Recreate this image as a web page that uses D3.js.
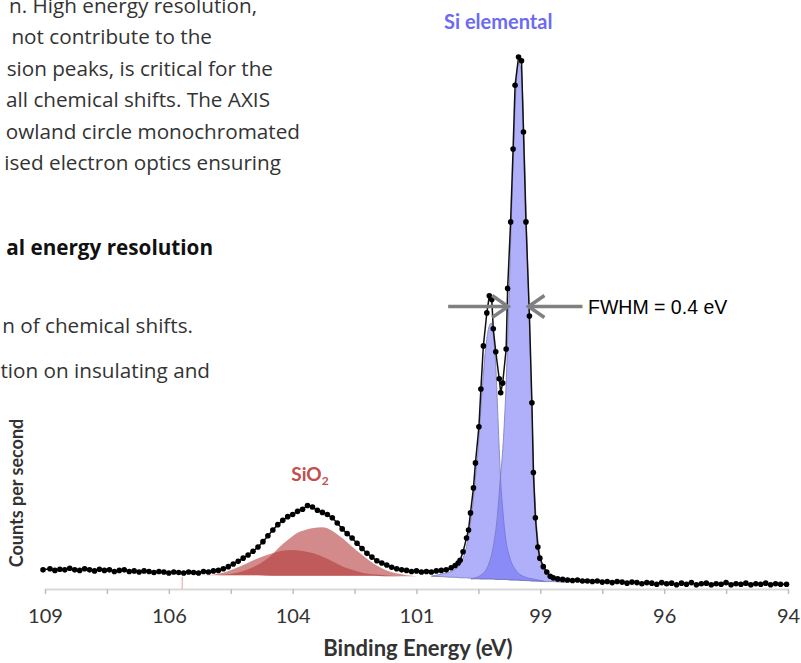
<!DOCTYPE html>
<html>
<head>
<meta charset="utf-8">
<script src="https://cdn.jsdelivr.net/npm/d3@7"></script>
<style>
body { margin: 0; background: #fff; }
</style>
</head>
<body>
<div id="chart"></div>
<script>
"use strict";

// page text, cut off at the left edge in the original scan
var paraLines = ["n. High energy resolution,", "not contribute to the", "sion peaks, is critical for the",
                 "all chemical shifts. The AXIS", "owland circle monochromated", "ised electron optics ensuring"];
var heading = "al energy resolution";
var bulletLines = ["n of chemical shifts.", "tion on insulating and"];

// measured spectrum: [binding energy (eV), counts (arb.)]
var spectrum = [
  [109.04, 3.6], [108.9, 3.8], [108.8, 3.5], [108.7, 3.7], [108.6, 3.6], [108.5, 3.9], [108.4, 3.6],
  [108.3, 3.5], [108.2, 3.8], [108.1, 3.6], [108.0, 3.4], [107.9, 3.7], [107.8, 3.5], [107.7, 3.6],
  [107.6, 3.3], [107.5, 3.5], [107.4, 3.6], [107.3, 3.3], [107.2, 3.4], [107.1, 3.2], [107.0, 3.4],
  [106.9, 3.3], [106.8, 3.1], [106.7, 3.3], [106.6, 3.2], [106.5, 3.0], [106.4, 3.2], [106.3, 3.1],
  [106.2, 3.0], [106.1, 3.2], [106.0, 3.1], [105.9, 3.0], [105.8, 3.3], [105.7, 3.2], [105.6, 3.4],
  [105.5, 3.5], [105.4, 3.8], [105.3, 4.2], [105.2, 4.7], [105.1, 5.2], [105.0, 5.8], [104.9, 6.4],
  [104.8, 7.1], [104.7, 7.9], [104.6, 8.9], [104.5, 10.0], [104.4, 11.1], [104.3, 12.1], [104.2, 12.9],
  [104.1, 13.6], [104.0, 14.0], [103.9, 14.6], [103.8, 15.0], [103.7, 15.7], [103.6, 15.4], [103.5, 14.8],
  [103.4, 14.4], [103.3, 14.0], [103.2, 13.4], [103.1, 12.4], [103.0, 11.3], [102.9, 10.4], [102.8, 9.6],
  [102.7, 8.6], [102.6, 7.6], [102.5, 6.7], [102.4, 6.0], [102.3, 5.3], [102.2, 4.9], [102.1, 4.5],
  [102.0, 4.1], [101.9, 3.8], [101.8, 3.6], [101.7, 3.5], [101.6, 3.3], [101.5, 3.4], [101.4, 3.2],
  [101.3, 3.3], [101.2, 3.2], [101.1, 3.4], [101.0, 3.5], [100.9, 3.6], [100.8, 4.0], [100.72, 4.4],
  [100.66, 4.9], [100.62, 5.4], [100.56, 7.0], [100.49, 9.6], [100.45, 11.1], [100.41, 14.3], [100.35, 19.0],
  [100.31, 23.7], [100.24, 30.5], [100.20, 37.6], [100.15, 45.7], [100.08, 51.9], [100.03, 55.1], [99.98, 54.4],
  [99.95, 48.9], [99.90, 44.6], [99.83, 39.5], [99.80, 36.9], [99.76, 38.7], [99.69, 45.1], [99.66, 56.5],
  [99.60, 69.0], [99.55, 82.7], [99.51, 94.7], [99.44, 100.0], [99.38, 99.3], [99.34, 85.9], [99.29, 69.0],
  [99.22, 51.3], [99.17, 35.0], [99.14, 21.9], [99.10, 13.4], [99.05, 7.9], [99.01, 5.8], [98.94, 4.2],
  [98.87, 3.2], [98.80, 2.4], [98.74, 2.1], [98.65, 1.9], [98.55, 1.8], [98.45, 1.7], [98.35, 1.6],
  [98.25, 1.7], [98.15, 1.5], [98.05, 1.5], [97.95, 1.4], [97.85, 1.5], [97.75, 1.3], [97.65, 1.4],
  [97.55, 1.2], [97.45, 1.4], [97.35, 1.3], [97.25, 1.1], [97.15, 1.3], [97.05, 1.2], [96.95, 1.0],
  [96.85, 1.2], [96.75, 1.1], [96.65, 0.9], [96.55, 1.2], [96.45, 1.0], [96.35, 1.1], [96.25, 0.8],
  [96.15, 1.1], [96.05, 0.9], [95.95, 1.2], [95.85, 0.8], [95.75, 1.0], [95.65, 1.1], [95.55, 0.8],
  [95.45, 1.0], [95.35, 0.9], [95.25, 1.2], [95.15, 0.8], [95.05, 1.0], [94.95, 0.9], [94.85, 1.1],
  [94.75, 0.8], [94.65, 1.0], [94.55, 0.9], [94.45, 1.1], [94.35, 0.8], [94.25, 1.0], [94.15, 0.9], [94.03, 0.9]
];

// fitted components: [energy, background, top]
var siO2Major = [
  [105.5, 2.6, 2.6], [105.2, 2.6, 2.9], [105.0, 2.6, 3.4], [104.8, 2.6, 4.1], [104.6, 2.6, 5.1],
  [104.4, 2.5, 6.6], [104.26, 2.5, 7.95], [104.1, 2.5, 9.2], [103.92, 2.5, 10.5], [103.75, 2.5, 11.1],
  [103.58, 2.5, 11.45], [103.41, 2.5, 11.6], [103.3, 2.5, 11.4], [103.18, 2.5, 10.8], [103.05, 2.5, 9.9],
  [102.91, 2.5, 8.9], [102.78, 2.5, 7.8], [102.64, 2.5, 6.7], [102.5, 2.5, 5.7], [102.37, 2.5, 4.8],
  [102.2, 2.4, 3.9], [102.03, 2.4, 3.25], [101.85, 2.4, 2.85], [101.7, 2.4, 2.6], [101.5, 2.4, 2.4]
];
var siO2Minor = [
  [105.8, 2.6, 2.6], [105.6, 2.6, 2.7], [105.47, 2.6, 2.9], [105.2, 2.6, 3.7], [104.93, 2.6, 4.8],
  [104.72, 2.6, 5.7], [104.52, 2.5, 6.4], [104.3, 2.5, 7.0], [104.05, 2.5, 7.33], [103.8, 2.5, 7.15],
  [103.58, 2.5, 6.7], [103.38, 2.5, 6.0], [103.18, 2.5, 5.1], [102.98, 2.5, 4.2], [102.78, 2.5, 3.55],
  [102.58, 2.5, 3.0], [102.37, 2.5, 2.75], [102.1, 2.4, 2.55], [101.8, 2.4, 2.4]
];
var si2p1 = [
  [101.2, 2.4, 2.4], [100.95, 2.3, 2.9], [100.8, 2.2, 3.3], [100.7, 2.2, 3.8], [100.62, 2.1, 4.6],
  [100.56, 2.1, 5.8], [100.49, 2.1, 8.0], [100.41, 2.0, 12.5], [100.35, 2.0, 17.0], [100.31, 2.0, 21.0],
  [100.25, 2.0, 27.0], [100.2, 1.9, 34.0], [100.15, 1.9, 40.5], [100.1, 1.9, 45.5], [100.05, 1.9, 48.8],
  [99.99, 1.9, 50.0], [99.95, 1.9, 48.0], [99.9, 1.8, 42.0], [99.85, 1.8, 31.0], [99.81, 1.8, 22.0],
  [99.75, 1.8, 14.0], [99.7, 1.8, 9.5], [99.62, 1.7, 6.0], [99.5, 1.7, 3.6], [99.35, 1.6, 2.4],
  [99.1, 1.5, 1.8], [98.9, 1.4, 1.4]
];
var si2p3 = [
  [100.4, 1.9, 1.9], [100.2, 1.9, 2.6], [100.05, 1.9, 4.5], [99.95, 1.9, 8.0], [99.87, 1.8, 13.5],
  [99.81, 1.8, 20.5], [99.75, 1.8, 27.5], [99.70, 1.8, 36.5], [99.65, 1.8, 49.5], [99.60, 1.7, 65.0],
  [99.55, 1.7, 80.0], [99.50, 1.7, 92.5], [99.44, 1.7, 99.0], [99.38, 1.6, 97.0], [99.33, 1.6, 85.0],
  [99.28, 1.6, 68.5], [99.22, 1.6, 50.0], [99.17, 1.5, 34.0], [99.13, 1.5, 22.0], [99.09, 1.5, 14.0],
  [99.04, 1.5, 8.5], [98.98, 1.5, 5.2], [98.92, 1.4, 3.5], [98.85, 1.4, 2.4], [98.75, 1.4, 1.8],
  [98.6, 1.3, 1.4], [98.45, 1.3, 1.3]
];

var majorTicks = [109, 106.5, 104, 101.5, 99, 96.5, 94];
var tickLabels = ["109", "106", "104", "101", "99", "96", "94"];
var minorTicks = [107.75, 105.25, 102.75, 100.25, 97.75, 95.25];
var fwhmEdges = [99.65, 99.24];
var regionStart = [106.23];

function draw() {
    var w = 801;
    var h = 663;

    var svg = d3.select("#chart")
                .append("svg")
                .attr("width", w)
                .attr("height", h);

    var x = d3.scaleLinear().domain([109, 94]).range([45, 788]);
    var y = d3.scaleLinear().domain([0, 100]).range([589, 57]);

    // page text
    var para = svg.append("g")
                  .attr("font-family", "'Open Sans', sans-serif")
                  .attr("font-size", 20.7)
                  .attr("fill", "#333")
                  .attr("text-anchor", "end");
    var paraEnds = [257, 212, 273, 270, 300, 281];
    paraLines.forEach(function(t, i){
        para.append("text").attr("x", paraEnds[i]).attr("y", 13 + i * 31.4).text(t);
    });
    para.append("text").attr("x", 213).attr("y", 255)
        .attr("font-weight", "bold").attr("fill", "#111").text(heading);
    para.append("text").attr("x", 193).attr("y", 333).text(bulletLines[0]);
    para.append("text").attr("x", 210).attr("y", 378).text(bulletLines[1]);

    // axis
    var axis = d3.axisBottom(x)
                 .tickValues(majorTicks.concat(minorTicks))
                 .tickSize(5)
                 .tickSizeOuter(0)
                 .tickPadding(15)
                 .tickFormat(function(d){
                     var i = majorTicks.indexOf(d);
                     return i >= 0 ? tickLabels[i] : "";
                 });
    var gx = svg.append("g").attr("transform", "translate(0," + y(0) + ")").call(axis);
    gx.select(".domain").attr("stroke", "#d9d9d9").attr("stroke-width", 2);
    gx.selectAll(".tick line").attr("stroke", "#bfbfbf").attr("stroke-width", 1.5);
    gx.selectAll(".tick text")
      .attr("font-family", "Lato, sans-serif")
      .attr("font-size", 20)
      .attr("fill", "#333");

    svg.selectAll("line.marker")
       .data(regionStart)
       .enter()
       .append("line")
       .attr("class", "marker")
       .attr("x1", function(d){ return x(d); })
       .attr("x2", function(d){ return x(d); })
       .attr("y1", y(0) - 12)
       .attr("y2", y(0))
       .attr("stroke", "#e8a0a0")
       .attr("stroke-width", 1);

    // fitted components
    var area = d3.area()
                 .x(function(d){ return x(d[0]); })
                 .y0(function(d){ return y(d[1]); })
                 .y1(function(d){ return y(d[2]); })
                 .curve(d3.curveMonotoneX);

    [siO2Minor, siO2Major].forEach(function(c){
        svg.append("path").attr("d", area(c))
           .attr("fill", "rgb(180,60,60)")
           .attr("fill-opacity", 0.6);
    });
    [si2p1, si2p3].forEach(function(c){
        svg.append("path").attr("d", area(c))
           .attr("fill", "rgb(110,110,245)")
           .attr("fill-opacity", 0.55)
           .attr("stroke", "#7a7ab8")
           .attr("stroke-width", 0.8);
    });

    // data
    var line = d3.line()
                 .x(function(d){ return x(d[0]); })
                 .y(function(d){ return y(d[1]); });
    svg.append("path").attr("d", line(spectrum))
       .attr("fill", "none")
       .attr("stroke", "#111")
       .attr("stroke-width", 1.5);
    svg.selectAll("circle")
       .data(spectrum)
       .enter()
       .append("circle")
       .attr("cx", function(d){ return x(d[0]); })
       .attr("cy", function(d){ return y(d[1]); })
       .attr("r", 2.8)
       .attr("fill", "#000");

    // FWHM arrows
    var ay = 306.5;
    var arrows = svg.append("g").attr("stroke", "#808080").attr("stroke-width", 3.5).attr("fill", "none");
    var lx = x(fwhmEdges[0]), rx = x(fwhmEdges[1]);
    arrows.append("line").attr("x1", lx - 60).attr("x2", lx - 2).attr("y1", ay).attr("y2", ay);
    arrows.append("polyline").attr("points", (lx - 16) + "," + (ay - 11) + " " + lx + "," + ay + " " + (lx - 16) + "," + (ay + 11));
    arrows.append("line").attr("x1", rx + 54).attr("x2", rx + 2).attr("y1", ay).attr("y2", ay);
    arrows.append("polyline").attr("points", (rx + 16) + "," + (ay - 11) + " " + rx + "," + ay + " " + (rx + 16) + "," + (ay + 11));
    svg.append("text").attr("x", 588).attr("y", 313.5)
       .attr("font-family", "'Liberation Sans', Arial, sans-serif")
       .attr("font-size", 19.5)
       .attr("fill", "#000")
       .text("FWHM = 0.4 eV");

    // labels
    svg.append("text").attr("x", x(99.85)).attr("y", y(105.3))
       .attr("text-anchor", "middle")
       .attr("font-family", "Lato, sans-serif").attr("font-weight", "bold").attr("font-size", 20)
       .attr("fill", "#6b6bf2")
       .text("Si elemental");
    var sio2 = svg.append("text").attr("x", x(103.65)).attr("y", y(20.3))
       .attr("text-anchor", "middle")
       .attr("font-family", "Lato, sans-serif").attr("font-weight", "bold").attr("font-size", 19)
       .attr("fill", "#c0504d");
    sio2.append("tspan").text("SiO");
    sio2.append("tspan").attr("dy", 4).attr("font-size", 12).text("2");

    svg.append("text").attr("x", 418).attr("y", 656)
       .attr("text-anchor", "middle")
       .attr("font-family", "Lato, sans-serif").attr("font-weight", "bold").attr("font-size", 22)
       .attr("fill", "#333")
       .text("Binding Energy (eV)");
    svg.append("text").attr("transform", "translate(23,493) rotate(-90)")
       .attr("text-anchor", "middle")
       .attr("font-family", "Lato, sans-serif").attr("font-weight", "bold").attr("font-size", 18)
       .attr("fill", "#333")
       .text("Counts per second");
}

window.onload = draw;
</script>
</body>
</html>
